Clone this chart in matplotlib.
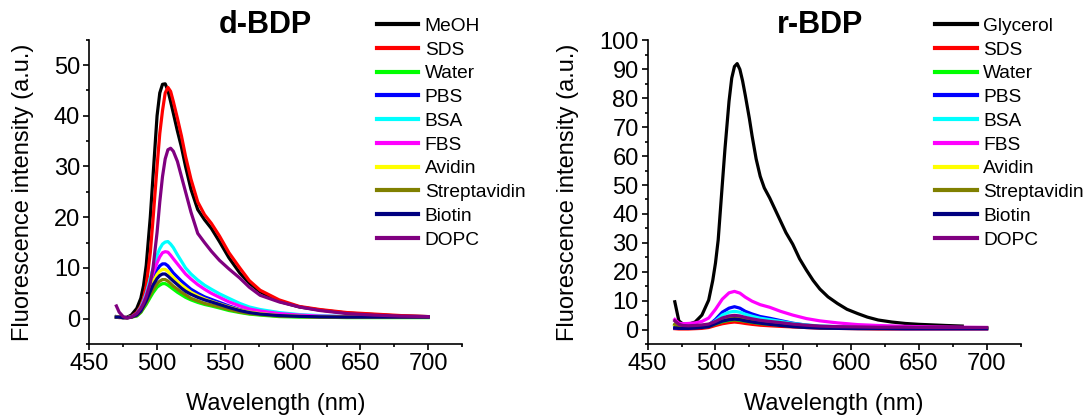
"""
Fluorescence emission spectra of d-BDP and r-BDP in different media.
Writes: out.png
"""

import matplotlib
matplotlib.use("Agg")
import matplotlib.pyplot as plt
from matplotlib.ticker import MultipleLocator

plt.rcParams["font.family"] = ["Liberation Sans", "DejaVu Sans"]

# ---- d-BDP (left panel) ----
WL_D = [470, 472, 475, 478, 481, 485, 488, 490, 492, 495, 497, 500, 502, 504, 506, 508,
        510, 512, 515, 518, 521, 525, 530, 535, 540, 546, 553, 561, 568, 576, 590, 605,
        620, 640, 660, 680, 700]
D_MEOH = [0.4, 0.3, 0.2, 0.3, 0.7, 2.0, 4.0, 6.5, 10.5, 20.0, 28.0, 40.0, 44.5, 46.2, 46.3, 45.0,
          42.8, 40.5, 37.0, 33.8, 30.0, 25.5, 21.5, 19.5, 17.8, 15.2, 12.0, 9.0, 7.0, 5.3, 3.4, 2.3,
          1.7, 1.1, 0.8, 0.5, 0.4]
D_SDS = [0.3, 0.2, 0.2, 0.2, 0.4, 1.2, 2.5, 4.0, 6.5, 13.0, 19.5, 30.0, 36.5, 41.0, 44.5, 45.6,
         44.8, 42.8, 39.5, 36.0, 32.0, 27.5, 23.0, 20.5, 18.8, 16.3, 13.0, 10.0, 7.5, 5.6, 3.7, 2.4,
         1.8, 1.2, 0.9, 0.6, 0.4]
D_WATER = [0.3, 0.3, 0.2, 0.2, 0.3, 0.5, 1.2, 2.0, 2.8, 4.2, 5.1, 6.2, 6.6, 6.9, 6.9, 6.6,
           6.2, 5.8, 5.2, 4.7, 4.2, 3.7, 3.2, 2.8, 2.5, 2.1, 1.6, 1.2, 0.9, 0.7, 0.4, 0.3,
           0.3, 0.2, 0.2, 0.2, 0.2]
D_PBS = [0.3, 0.3, 0.2, 0.2, 0.3, 0.8, 1.8, 3.0, 4.3, 6.5, 8.0, 9.6, 10.4, 10.8, 10.8, 10.4,
         9.7, 9.0, 8.2, 7.4, 6.7, 5.8, 5.0, 4.3, 3.8, 3.2, 2.5, 1.8, 1.4, 1.1, 0.7, 0.5,
         0.4, 0.3, 0.3, 0.3, 0.3]
D_BSA = [0.3, 0.3, 0.2, 0.2, 0.3, 1.0, 2.2, 3.5, 5.0, 8.0, 9.8, 12.5, 13.8, 14.7, 15.1, 15.2,
         14.7, 14.0, 12.6, 11.3, 10.0, 8.8, 7.6, 6.6, 5.8, 4.9, 4.0, 3.0, 2.3, 1.8, 1.2, 0.8,
         0.6, 0.4, 0.3, 0.3, 0.3]
D_FBS = [0.3, 0.3, 0.2, 0.2, 0.3, 0.9, 2.0, 3.2, 4.6, 7.2, 8.9, 11.0, 12.2, 13.0, 13.2, 13.1,
         12.5, 11.8, 10.8, 9.8, 8.8, 7.8, 6.7, 5.8, 5.0, 4.2, 3.3, 2.5, 1.9, 1.5, 1.0, 0.7,
         0.5, 0.4, 0.3, 0.3, 0.3]
D_AVIDIN = [0.3, 0.3, 0.2, 0.2, 0.3, 0.7, 1.6, 2.7, 3.9, 5.9, 7.2, 8.7, 9.4, 9.7, 9.7, 9.3,
            8.7, 8.1, 7.3, 6.6, 6.0, 5.2, 4.5, 3.9, 3.4, 2.9, 2.3, 1.7, 1.3, 1.0, 0.6, 0.45,
            0.35, 0.3, 0.3, 0.3, 0.3]
D_STREP = [0.3, 0.3, 0.2, 0.2, 0.3, 0.6, 1.3, 2.2, 3.1, 4.7, 5.7, 6.9, 7.4, 7.7, 7.7, 7.4,
           6.9, 6.4, 5.8, 5.2, 4.7, 4.0, 3.5, 3.0, 2.7, 2.3, 1.8, 1.3, 1.0, 0.8, 0.5, 0.4,
           0.3, 0.3, 0.3, 0.3, 0.3]
D_BIOTIN = [0.3, 0.3, 0.2, 0.2, 0.3, 0.7, 1.5, 2.5, 3.5, 5.4, 6.6, 7.9, 8.5, 8.8, 8.8, 8.4,
            7.9, 7.4, 6.7, 6.0, 5.4, 4.8, 4.2, 3.7, 3.3, 2.8, 2.2, 1.6, 1.2, 0.9, 0.6, 0.45,
            0.35, 0.3, 0.3, 0.3, 0.3]
D_DOPC = [2.5, 1.3, 0.4, 0.1, 0.3, 1.0, 2.0, 3.0, 4.3, 7.0, 10.0, 17.0, 23.0, 28.0, 31.5, 33.3,
          33.6, 33.0, 31.0, 28.0, 25.0, 21.0, 16.8, 15.0, 13.3, 11.5, 9.8, 8.0, 6.2, 4.6, 3.3, 2.3,
          1.6, 1.0, 0.7, 0.5, 0.4]

# ---- r-BDP (right panel) ----
WL_R = [470, 473, 476, 480, 485, 490, 495, 500, 505, 510, 514, 518, 522, 527,
        533, 540, 548, 557, 567, 577, 590, 605, 620, 640, 660, 680, 700]
WL_GLY = [470, 473, 476, 480, 485, 490, 495, 498, 500, 502, 505, 507, 510, 512, 514,
          516, 518, 520, 522, 525, 527, 530, 533, 536, 540, 544, 548, 552, 557, 562,
          567, 572, 577, 583, 590, 597, 605, 612, 620, 630, 640, 650, 660, 670, 682]
R_GLYCEROL = [9.6, 3.0, 1.9, 1.8, 2.6, 5.0, 10.2, 17.0, 23.0, 31.0, 50.0, 62.5, 79.0, 87.0, 91.0,
              92.0, 90.0, 86.0, 81.0, 73.0, 67.0, 59.0, 53.0, 49.0, 45.5, 41.5, 37.5, 33.5, 29.5, 24.5,
              20.6, 17.0, 14.0, 11.3, 9.0, 7.0, 5.5, 4.3, 3.3, 2.6, 2.1, 1.8, 1.6, 1.4, 1.2]
R_SDS = [0.3, 0.2, 0.2, 0.2, 0.3, 0.4, 0.7, 1.4, 2.0, 2.4, 2.6, 2.4, 2.1, 1.8,
         1.5, 1.3, 1.1, 0.9, 0.7, 0.5, 0.4, 0.3, 0.2, 0.2, 0.2, 0.2, 0.2]
R_WATER = [1.6, 0.9, 0.8, 0.7, 0.8, 0.9, 1.1, 1.9, 2.7, 3.2, 3.4, 3.2, 2.9, 2.5,
           2.1, 1.8, 1.5, 1.2, 0.9, 0.7, 0.6, 0.5, 0.5, 0.5, 0.5, 0.5, 0.5]
R_PBS = [0.5, 0.5, 0.5, 0.6, 0.8, 1.1, 1.5, 3.5, 6.0, 7.4, 7.9, 7.4, 6.3, 5.4,
         4.5, 3.9, 3.1, 2.2, 1.5, 1.0, 0.7, 0.5, 0.4, 0.3, 0.3, 0.3, 0.3]
R_BSA = [1.5, 1.0, 0.9, 0.9, 1.0, 1.2, 1.6, 3.0, 5.0, 6.0, 6.3, 6.0, 5.3, 4.6,
         3.9, 3.4, 2.8, 2.1, 1.6, 1.2, 1.0, 0.8, 0.7, 0.6, 0.5, 0.5, 0.5]
R_FBS = [3.5, 2.2, 2.0, 2.1, 2.3, 2.8, 4.0, 7.0, 10.5, 12.7, 13.2, 12.6, 11.2, 9.8,
         8.6, 7.7, 6.3, 5.0, 3.8, 3.0, 2.3, 1.7, 1.4, 1.1, 0.9, 0.8, 0.7]
R_AVIDIN = [1.5, 0.9, 0.8, 0.8, 0.9, 1.0, 1.3, 2.3, 3.3, 3.8, 4.0, 3.8, 3.4, 3.0,
            2.5, 2.1, 1.7, 1.3, 1.0, 0.8, 0.6, 0.5, 0.5, 0.5, 0.5, 0.5, 0.5]
R_STREP = [1.8, 1.0, 0.8, 0.8, 0.9, 1.1, 1.4, 2.5, 3.6, 4.2, 4.4, 4.2, 3.8, 3.3,
           2.8, 2.4, 2.0, 1.6, 1.2, 1.0, 0.8, 0.7, 0.6, 0.6, 0.6, 0.6, 0.6]
R_BIOTIN = [0.6, 0.4, 0.4, 0.4, 0.5, 0.7, 1.0, 2.0, 2.9, 3.4, 3.6, 3.4, 3.0, 2.6,
            2.2, 1.8, 1.4, 1.0, 0.7, 0.5, 0.4, 0.3, 0.3, 0.3, 0.3, 0.3, 0.3]
R_DOPC = [3.0, 1.8, 1.4, 1.3, 1.4, 1.6, 1.9, 2.8, 4.0, 4.7, 4.9, 4.7, 4.2, 3.7,
          3.2, 2.8, 2.4, 1.9, 1.5, 1.2, 1.0, 0.9, 0.8, 0.8, 0.7, 0.7, 0.7]

# Origin-style default colours, in legend order
COLORS = ["#000000", "#FF0000", "#00FF00", "#0000FF", "#00FFFF",
          "#FF00FF", "#FFFF00", "#808000", "#000080", "#800080"]


def style_axis(ax, ymax, ymajor):
    ax.set_xlim(450, 725)
    ax.set_ylim(-5, ymax)
    ax.xaxis.set_major_locator(MultipleLocator(50))
    ax.xaxis.set_minor_locator(MultipleLocator(25))
    ax.yaxis.set_major_locator(MultipleLocator(ymajor))
    ax.yaxis.set_minor_locator(MultipleLocator(ymajor / 2))
    ax.spines["top"].set_visible(False)
    ax.spines["right"].set_visible(False)
    for s in ("left", "bottom"):
        ax.spines[s].set_linewidth(1.2)
    ax.tick_params(which="major", direction="out", length=4.5, width=1.2,
                   labelsize=17, pad=2)
    ax.tick_params(which="minor", direction="out", length=2.3, width=1.2)
    ax.set_xlabel("Wavelength (nm)", fontsize=17)
    ax.set_ylabel("Fluorescence intensity (a.u.)", fontsize=17)


def main():
    fig = plt.figure(figsize=(10.9, 4.16), dpi=100)
    ax1 = fig.add_axes([0.0819, 0.1731, 0.3421, 0.7315])
    ax2 = fig.add_axes([0.5942, 0.1731, 0.3421, 0.7296])

    left_series = [
        ("MeOH", D_MEOH), ("SDS", D_SDS), ("Water", D_WATER), ("PBS", D_PBS),
        ("BSA", D_BSA), ("FBS", D_FBS), ("Avidin", D_AVIDIN),
        ("Streptavidin", D_STREP), ("Biotin", D_BIOTIN), ("DOPC", D_DOPC),
    ]
    for (name, vals), col in zip(left_series, COLORS):
        ax1.plot(WL_D, vals, color=col, lw=2.3, label=name,
                 solid_joinstyle="round")

    right_series = [
        ("Glycerol", WL_GLY, R_GLYCEROL), ("SDS", WL_R, R_SDS),
        ("Water", WL_R, R_WATER), ("PBS", WL_R, R_PBS), ("BSA", WL_R, R_BSA),
        ("FBS", WL_R, R_FBS), ("Avidin", WL_R, R_AVIDIN),
        ("Streptavidin", WL_R, R_STREP), ("Biotin", WL_R, R_BIOTIN),
        ("DOPC", WL_R, R_DOPC),
    ]
    for (name, wl, vals), col in zip(right_series, COLORS):
        ax2.plot(wl, vals, color=col, lw=2.3, label=name,
                 solid_joinstyle="round")

    style_axis(ax1, 55, 10)
    style_axis(ax2, 100, 10)

    ax1.set_title("d-BDP", fontsize=22, fontweight="bold", x=0.473, pad=1)
    ax2.set_title("r-BDP", fontsize=22, fontweight="bold", x=0.462, pad=1)

    ax1.xaxis.set_label_coords(0.5, -0.16)
    ax2.xaxis.set_label_coords(0.5, -0.16)
    ax1.yaxis.set_label_coords(-0.149, 0.5)
    ax2.yaxis.set_label_coords(-0.185, 0.5)

    for ax, x0 in ((ax1, 376.7 / 1090), (ax2, 935.0 / 1090)):
        leg = ax.legend(loc="upper left", bbox_to_anchor=(x0, 1 - 17.5 / 416),
                        bbox_transform=fig.transFigure, frameon=False,
                        fontsize=13.8, borderpad=0, borderaxespad=0,
                        handlelength=2.17, handletextpad=0.34, labelspacing=0.33)
        for line in leg.get_lines():
            line.set_linewidth(3.0)

    fig.savefig("out.png", dpi=100)


if __name__ == "__main__":
    main()
